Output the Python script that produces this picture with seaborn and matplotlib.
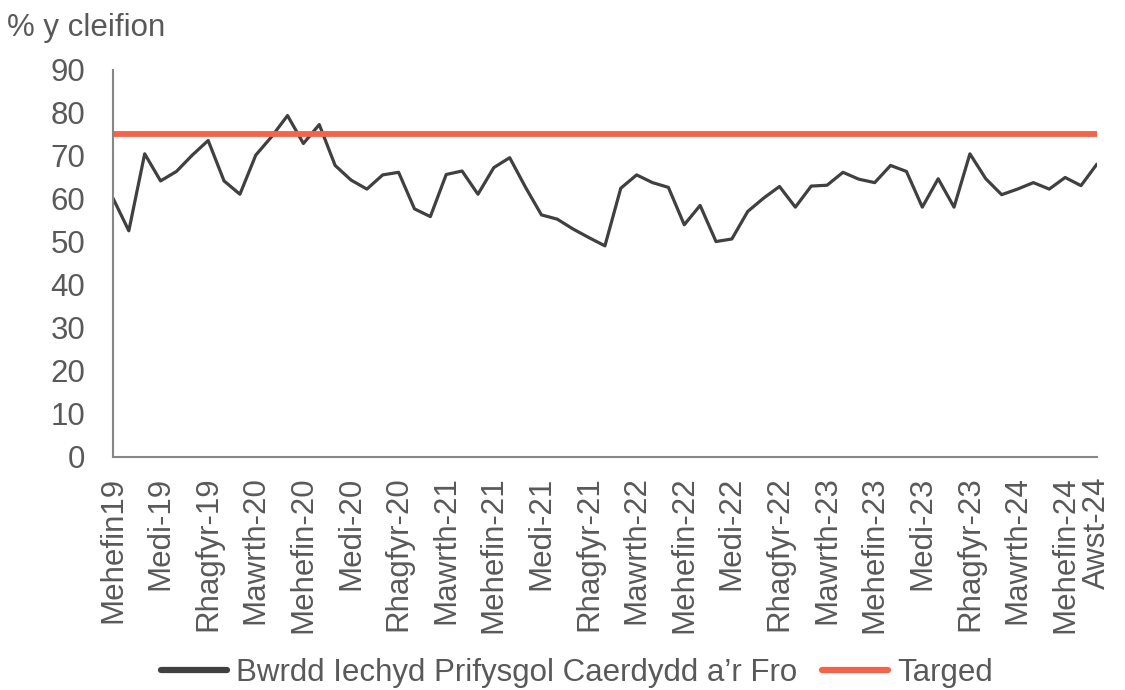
import matplotlib
matplotlib.use("Agg")
import matplotlib.pyplot as plt
import seaborn as sns
import pandas as pd

# monthly, Mehefin 2019 - Awst 2024
values = [60.2, 52.6, 70.5, 64.2, 66.4, 70.2, 73.6, 64.2, 61.1, 70.2,
          74.5, 79.4, 72.9, 77.3, 67.8, 64.4, 62.3, 65.6, 66.2, 57.7,
          55.9, 65.7, 66.5, 61.1, 67.3, 69.6, 62.7, 56.3, 55.3, 53.0,
          51.0, 49.1, 62.5, 65.6, 63.8, 62.7, 54.0, 58.5, 50.1, 50.7,
          57.1, 60.2, 62.9, 58.1, 63.0, 63.2, 66.2, 64.6, 63.8, 67.8,
          66.4, 58.1, 64.7, 58.1, 70.5, 64.7, 61.0, 62.3, 63.8, 62.3,
          65.0, 63.1, 68.1]
target = 75
tick_labels = ["Mehefin19", "Medi-19", "Rhagfyr-19", "Mawrth-20", "Mehefin-20",
               "Medi-20", "Rhagfyr-20", "Mawrth-21", "Mehefin-21", "Medi-21",
               "Rhagfyr-21", "Mawrth-22", "Mehefin-22", "Medi-22", "Rhagfyr-22",
               "Mawrth-23", "Mehefin-23", "Medi-23", "Rhagfyr-23", "Mawrth-24",
               "Mehefin-24", "Awst-24"]
series_name = "Bwrdd Iechyd Prifysgol Caerdydd a\u2019r Fro"
target_name = "Targed"

months = list(range(len(values)))
df = pd.DataFrame({"month": months, "value": values, "target": [target] * len(values)})

sns.set_style("white")
plt.rcParams['font.family'] = ['Liberation Sans', 'DejaVu Sans']

text_col = "#595959"
axis_col = "#868686"
fs = 22.5

fig = plt.figure(figsize=(11.25, 6.9), dpi=100)
ax = fig.add_axes([0.1004, 0.3377, 0.8746, 0.5609])

sns.lineplot(data=df, x="month", y="value", ax=ax, color="#404040",
             linewidth=2.3, label=series_name)
sns.lineplot(data=df, x="month", y="target", ax=ax, color="#f4634a",
             linewidth=4.2, label=target_name, solid_capstyle="round")

ax.set_xlim(0, len(values) - 1)
ax.set_ylim(0, 90)
ax.set_yticks(range(0, 91, 10))
tick_pos = list(range(0, 61, 3)) + [len(values) - 1]
ax.set_xticks(tick_pos)
ax.set_xticklabels(tick_labels, rotation=90)
ax.tick_params(axis="both", labelsize=fs, colors=text_col, direction="out",
               length=7, width=1.3, color=axis_col)
ax.tick_params(axis="y", pad=13)
ax.tick_params(axis="x", pad=7)
ax.set_xlabel("")
ax.set_ylabel("")
for s in ["top", "right"]:
    ax.spines[s].set_visible(False)
for s in ["left", "bottom"]:
    ax.spines[s].set_color(axis_col)
    ax.spines[s].set_linewidth(1.5)

fig.text(0.006, 0.96, "% y cleifion", fontsize=fs, color=text_col, va="center")

ax.legend_.remove()
h, l = ax.get_legend_handles_labels()
leg = fig.legend(h, l, loc="center", bbox_to_anchor=(0.513, 0.025), ncol=2, frameon=False,
                 fontsize=fs, labelcolor=text_col, handlelength=2.1, columnspacing=0.8,
                 handletextpad=0.3)
for line in leg.get_lines():
    line.set_linewidth(4.5)

fig.savefig("out.png", dpi=100)
